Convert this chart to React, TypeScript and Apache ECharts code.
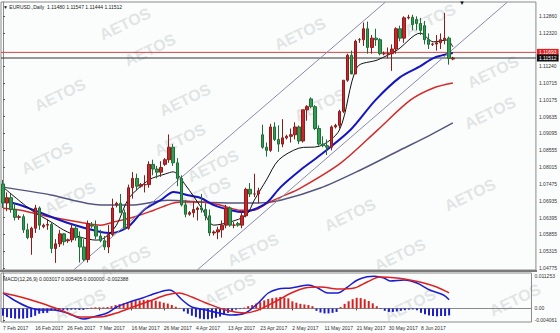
import React, { useEffect, useRef } from 'react';
import * as echarts from 'echarts';

// ---- data ----
const dateLabels = ['7 Feb 2017','16 Feb 2017','26 Feb 2017','7 Mar 2017','16 Mar 2017','26 Mar 2017','4 Apr 2017','13 Apr 2017','23 Apr 2017','2 May 2017','11 May 2017','21 May 2017','30 May 2017','8 Jun 2017'];

const open = [1.0747,1.0686,1.0703,1.0665,1.0640,1.0642,1.0600,1.0575,1.0605,1.0670,1.0610,1.0615,1.0617,1.0540,1.0555,1.0587,1.0565,1.0568,1.0605,1.0575,1.0545,1.0505,1.0615,1.0612,1.0580,1.0565,1.0545,1.0585,1.0680,1.0685,1.0655,1.0605,1.0735,1.0765,1.0740,1.0745,1.0745,1.0810,1.0795,1.0785,1.0810,1.0825,1.0865,1.0815,1.0765,1.0680,1.0650,1.0655,1.0665,1.0670,1.0665,1.0645,1.0590,1.0593,1.0600,1.0615,1.0670,1.0615,1.0620,1.0615,1.0645,1.0730,1.0715,1.0715,1.0905,1.0865,1.0855,1.0930,1.0890,1.0875,1.0895,1.0900,1.0905,1.0930,1.0885,1.0985,1.1020,1.0995,1.0925,1.0875,1.0870,1.0865,1.0930,1.0935,1.0980,1.1080,1.1160,1.1100,1.1210,1.1210,1.1245,1.1185,1.1215,1.1210,1.1165,1.1165,1.1165,1.1180,1.1245,1.1215,1.1280,1.1282,1.1275,1.1262,1.1255,1.1210,1.1195,1.1196,1.1200,1.1210,1.1215,1.1148];
const high = [1.0760,1.0720,1.0715,1.0685,1.0648,1.0650,1.0620,1.0610,1.0680,1.0675,1.0620,1.0635,1.0625,1.0570,1.0600,1.0590,1.0572,1.0620,1.0615,1.0595,1.0570,1.0630,1.0625,1.0630,1.0600,1.0580,1.0615,1.0700,1.0690,1.0715,1.0665,1.0745,1.0785,1.0780,1.0750,1.0775,1.0820,1.0825,1.0805,1.0820,1.0830,1.0906,1.0875,1.0830,1.0775,1.0695,1.0660,1.0690,1.0675,1.0715,1.0685,1.0665,1.0598,1.0610,1.0630,1.0680,1.0675,1.0625,1.0625,1.0660,1.0735,1.0750,1.0780,1.0735,1.0937,1.0880,1.0940,1.0945,1.0935,1.0955,1.0905,1.0925,1.0945,1.0935,1.0985,1.1000,1.1025,1.1000,1.0935,1.0900,1.0890,1.0935,1.0940,1.0985,1.1080,1.1165,1.1175,1.1210,1.1215,1.1265,1.1268,1.1225,1.1245,1.1215,1.1172,1.1185,1.1195,1.1250,1.1255,1.1285,1.1290,1.1290,1.1285,1.1280,1.1270,1.1230,1.1200,1.1225,1.1230,1.1296,1.1220,1.1155];
const low = [1.0670,1.0660,1.0655,1.0630,1.0632,1.0590,1.0570,1.0520,1.0590,1.0600,1.0605,1.0600,1.0525,1.0494,1.0545,1.0550,1.0558,1.0560,1.0565,1.0495,1.0500,1.0495,1.0605,1.0570,1.0560,1.0535,1.0525,1.0580,1.0672,1.0655,1.0600,1.0600,1.0700,1.0725,1.0735,1.0720,1.0735,1.0775,1.0765,1.0770,1.0805,1.0815,1.0805,1.0740,1.0675,1.0640,1.0645,1.0640,1.0630,1.0655,1.0630,1.0580,1.0582,1.0570,1.0575,1.0605,1.0610,1.0605,1.0610,1.0605,1.0640,1.0705,1.0705,1.0685,1.0860,1.0835,1.0850,1.0885,1.0850,1.0865,1.0890,1.0880,1.0890,1.0875,1.0880,1.0950,1.0990,1.0920,1.0870,1.0865,1.0840,1.0855,1.0925,1.0925,1.0975,1.1075,1.1110,1.1100,1.1200,1.1190,1.1165,1.1165,1.1190,1.1160,1.1160,1.1150,1.1110,1.1165,1.1205,1.1200,1.1275,1.1240,1.1240,1.1225,1.1195,1.1180,1.1190,1.1175,1.1180,1.1195,1.1130,1.1144];
const close = [1.0686,1.0703,1.0665,1.0640,1.0642,1.0600,1.0575,1.0605,1.0670,1.0615,1.0615,1.0617,1.0540,1.0555,1.0587,1.0562,1.0568,1.0605,1.0575,1.0545,1.0505,1.0620,1.0612,1.0580,1.0565,1.0545,1.0585,1.0670,1.0685,1.0655,1.0605,1.0735,1.0765,1.0740,1.0745,1.0745,1.0810,1.0795,1.0785,1.0800,1.0825,1.0865,1.0815,1.0765,1.0680,1.0650,1.0655,1.0665,1.0670,1.0665,1.0645,1.0590,1.0593,1.0600,1.0615,1.0670,1.0615,1.0615,1.0615,1.0645,1.0730,1.0715,1.0715,1.0725,1.0865,1.0855,1.0930,1.0890,1.0875,1.0895,1.0900,1.0905,1.0930,1.0885,1.0985,1.0995,1.0995,1.0925,1.0875,1.0870,1.0865,1.0930,1.0935,1.0980,1.1080,1.1160,1.1100,1.1205,1.1210,1.1245,1.1185,1.1215,1.1210,1.1165,1.1165,1.1165,1.1180,1.1245,1.1215,1.1280,1.1282,1.1258,1.1262,1.1240,1.1210,1.1195,1.1196,1.1200,1.1210,1.1215,1.1150,1.1151];

// moving averages: [bar index, price]
const maFast = [[0,1.0737],[7,1.0663],[12,1.0624],[15,1.0599],[19,1.0577],[23,1.0567],[25,1.0574],[28,1.0615],[31,1.0700],[36,1.0760],[40,1.0779],[42,1.0786],[45,1.0744],[49,1.0670],[52,1.0615],[56,1.0625],[60,1.0647],[62,1.0695],[65,1.0760],[68,1.0824],[73,1.0862],[78,1.0868],[83,1.0920],[87.4,1.1122],[92.4,1.1145],[97.3,1.1177],[103,1.1231],[106.2,1.1203],[109.6,1.1209],[111,1.1187]];
const maMid = [[0,1.0695],[4.4,1.0679],[7.6,1.0663],[16,1.0622],[24.1,1.0593],[26.6,1.0590],[30.8,1.0609],[34.7,1.0663],[38.9,1.0695],[42.1,1.0721],[45.6,1.0711],[48.8,1.0702],[52,1.0679],[56.2,1.0663],[59.4,1.0657],[62.8,1.0670],[65.3,1.0689],[68.5,1.0737],[73.4,1.0792],[78.3,1.0840],[85.7,1.0920],[91.9,1.1016],[98,1.1090],[103,1.1125],[106.2,1.1151],[111,1.1167]];
const maSlow = [[0,1.0669],[4.4,1.0663],[11.8,1.0641],[20,1.0622],[24.1,1.0615],[27.3,1.0625],[32.3,1.0641],[37.2,1.0663],[42.1,1.0686],[45.6,1.0689],[48.8,1.0689],[53.7,1.0679],[58.6,1.0663],[61.8,1.0663],[65.3,1.0686],[68.5,1.0705],[73.4,1.0734],[83.3,1.0814],[92.4,1.0920],[100.5,1.1016],[106.2,1.1055],[111,1.1071]];
const maLong = [[0,1.0737],[11.8,1.0712],[24.1,1.0680],[32.3,1.0680],[40.6,1.0695],[48.8,1.0689],[56.9,1.0686],[62.8,1.0686],[68.5,1.0695],[78.3,1.0734],[88.2,1.0792],[98,1.0856],[105.4,1.0904],[111,1.0943]];

// channel lines: [bar index, price] end points
const channelUpper = [[17.5,1.0472],[94.3,1.1330]];
const channelLower = [[48,1.0472],[124.4,1.1330]];

const bidLine = 1.11693;
const lastLine = 1.11512;
const priceTicks = [1.12860,1.12320,1.11240,1.10715,1.10175,1.09635,1.09095,1.08555,1.08015,1.07475,1.06935,1.06395,1.05855,1.05315,1.04775];

const macdHist = [-0.0025,-0.003,-0.0033,-0.0035,-0.0035,-0.0035,-0.0033,-0.003,-0.0025,-0.0018,-0.0016,-0.0015,-0.0006,-0.0005,-0.0005,-0.0005,-0.0004,-0.0004,-0.0004,-0.0005,-0.0005,-0.0002,0.0003,0.0004,0.0004,0.0004,0.0005,0.0008,0.0012,0.0015,0.0018,0.0022,0.0025,0.0027,0.0028,0.003,0.003,0.0028,0.0027,0.0024,0.002,0.0017,0.0012,0.0006,0.0002,-0.001,-0.0018,-0.0025,-0.003,-0.0035,-0.0037,-0.0037,-0.0035,-0.0032,-0.0028,-0.0022,-0.0015,-0.0008,-0.0004,-0.0002,0.0003,0.0008,0.0012,0.0017,0.0022,0.0028,0.0033,0.0036,0.0038,0.004,0.0038,0.0035,0.0025,0.002,0.0016,0.0014,0.0012,0.0008,-0.0008,-0.0014,-0.0017,-0.0017,-0.0015,-0.0012,0.0005,0.0016,0.0025,0.0032,0.0037,0.0036,0.0032,0.0026,0.0018,0.0008,-0.0002,-0.0008,-0.0012,-0.0012,-0.001,-0.0008,-0.0006,-0.0004,-0.0003,-0.0006,-0.0015,-0.002,-0.0024,-0.0026,-0.0027,-0.0026,-0.0026,-0.002388];
const macdMain = [[0,0.00537],[2.7,0.00294],[6.2,0.00052],[9.4,-0.00052],[12.6,-0.00052],[16,-0.00156],[20,-0.00364],[22.4,-0.00294],[25.9,-0.00156],[28.3,0.00052],[31.5,0.00225],[34.7,0.00364],[38.2,0.00537],[41.4,0.00641],[42.6,0.00571],[44.6,0.00294],[47,0.00052],[50.5,-0.00052],[53.7,-0.00156],[56.9,-0.00225],[60.3,-0.00156],[63.5,0.0019],[66,0.00537],[68.5,0.00675],[71.7,0.0071],[75.9,0.00814],[78.3,0.0071],[80.8,0.00537],[83.3,0.00537],[85.7,0.00744],[88.2,0.00987],[90.6,0.0110],[92.4,0.0112],[94.8,0.01056],[96.3,0.00952],[99.8,0.00987],[103,0.00883],[106.2,0.0064],[109.6,0.00467],[111,0.003017]];
const macdSignal = [[0,0.00537],[4.4,0.00398],[9.4,0.0019],[14.3,-0.00052],[19.2,-0.00294],[24.1,-0.00294],[28.3,-0.00156],[32.3,0.00052],[37.2,0.00294],[40.6,0.00467],[43.8,0.00537],[47,0.00398],[50.5,0.0019],[55.4,-0.00052],[60.3,-0.00156],[63.5,-0.00052],[68.5,0.00294],[71.7,0.00537],[75.1,0.0071],[79.1,0.00744],[83.3,0.00675],[87.4,0.0071],[90.6,0.00918],[93.8,0.0109],[98,0.01056],[101.2,0.00987],[104.7,0.00883],[107.9,0.00744],[111,0.005405]];
const macdTicks = [0.011253, 0, -0.004061];

const SLOTS = 132;
const FONT = 'Liberation Sans';

const watermarks = [[125,24],[150,50],[300,34],[430,20],[60,95],[185,100],[320,105],[493,72],[490,113],[47,158],[180,140],[213,166],[70,198],[205,193],[350,215],[470,195],[253,250],[125,262],[400,255],[230,290],[410,305],[80,305],[515,300]];

export default function App() {
  const ref = useRef<HTMLDivElement>(null);
  useEffect(() => {
    if (!ref.current) return;
    const chart = echarts.init(ref.current, null, { renderer: 'svg' });
    const slots = Array.from({ length: SLOTS }, (_, i) => String(i));
    const candles = open.map((o, i) => [o, close[i], low[i], high[i]]);
    const showDate = (i: number) => i % 8 === 0 && i / 8 < dateLabels.length;
    const line = (data: number[][], color: string, width: number, xi: number, yi: number, smooth = 0.3) => ({
      type: 'line', xAxisIndex: xi, yAxisIndex: yi, data, showSymbol: false, smooth,
      lineStyle: { color, width }, silent: true, z: 3,
    });
    const hLine = (v: number, color: string, bg: string) => ({
      type: 'line', xAxisIndex: 1, yAxisIndex: 0, data: [[-0.5, v], [SLOTS - 0.5, v]], showSymbol: false, silent: true, z: 2,
      lineStyle: { color, width: 1 },
      endLabel: { show: true, formatter: v.toFixed(5), color: '#fff', backgroundColor: bg, padding: [1, 2], fontSize: 5, distance: 1 },
    });
    const wm = watermarks.map(([x, y]) => ({
      type: 'text', x, y, rotation: 0.45, z: -10, silent: true,
      style: { text: 'AETOS', fill: 'rgba(200,204,204,0.5)', font: `bold 16px "${FONT}"`, align: 'center', verticalAlign: 'middle' },
    }));
    chart.setOption({
      animation: false,
      backgroundColor: '#fbfdfc',
      textStyle: { fontFamily: FONT },
      grid: [
        { left: 1, right: 24, top: 2, height: 268, show: true, borderColor: '#8a8a8a', borderWidth: 1, backgroundColor: 'transparent' },
        { left: 1, right: 24, top: 273, height: 49, show: true, borderColor: '#8a8a8a', borderWidth: 1, backgroundColor: 'transparent' },
      ],
      xAxis: [
        { type: 'category', gridIndex: 0, data: slots, show: false },
        { type: 'value', gridIndex: 0, min: -0.5, max: SLOTS - 0.5, show: false },
        {
          type: 'category', gridIndex: 1, data: slots,
          axisLine: { show: true, lineStyle: { color: '#8a8a8a' } },
          axisTick: { show: true, interval: (i: number) => showDate(i), alignWithLabel: true, length: 2, lineStyle: { color: '#555' } },
          axisLabel: { interval: (i: number) => showDate(i), showMinLabel: true, formatter: (_v: string, i: number) => dateLabels[i / 8], align: 'left', fontSize: 5, color: '#333', margin: 3 },
        },
        { type: 'value', gridIndex: 1, min: -0.5, max: SLOTS - 0.5, show: false },
      ],
      yAxis: [
        {
          type: 'value', gridIndex: 0, position: 'right', min: 1.04711, max: 1.13309,
          axisLine: { show: true, lineStyle: { color: '#8a8a8a' } },
          axisTick: { show: true, customValues: priceTicks, length: 2, lineStyle: { color: '#555' } },
          axisLabel: { customValues: priceTicks, formatter: (v: number) => v.toFixed(5), fontSize: 5, color: '#333', margin: 3 },
          splitLine: { show: false },
        },
        {
          type: 'value', gridIndex: 1, position: 'right', min: -0.004675, max: 0.012292,
          axisLine: { show: true, lineStyle: { color: '#8a8a8a' } },
          axisTick: { show: true, customValues: macdTicks, length: 2, lineStyle: { color: '#555' } },
          axisLabel: { customValues: macdTicks, formatter: (v: number) => (v === 0 ? '0.00' : v.toFixed(6)), fontSize: 5, color: '#333', margin: 3 },
          splitLine: { show: false },
        },
      ],
      series: [
        hLine(bidLine, '#d84040', '#e02020'),
        hLine(lastLine, '#333333', '#111111'),
        {
          type: 'candlestick', xAxisIndex: 0, yAxisIndex: 0, data: candles, barWidth: 3, z: 4,
          itemStyle: { color: '#c8262c', color0: '#2f9e50', borderColor: '#8e1b1b', borderColor0: '#1f6e36', borderWidth: 1 },
        },
        line(maLong, '#55557f', 1.5, 1, 0),
        line(maSlow, '#d42a2a', 1.5, 1, 0),
        line(maMid, '#1414c4', 2, 1, 0),
        line(maFast, '#111111', 1, 1, 0),
        line(channelUpper, '#8a8aa8', 1, 1, 0, 0),
        line(channelLower, '#8a8aa8', 1, 1, 0, 0),
        {
          type: 'bar', xAxisIndex: 2, yAxisIndex: 1, barWidth: 2, silent: true,
          data: macdHist.map((v) => ({ value: v, itemStyle: { color: v >= 0 ? '#d42020' : '#1c1cc8' } })),
        },
        line(macdMain, '#1c1cd0', 1.5, 3, 1),
        line(macdSignal, '#e02020', 1.5, 3, 1),
      ],
      graphic: [
        ...wm,
        { type: 'rect', shape: { x: 0, y: 270, width: 537, height: 2 }, style: { fill: '#7a7a7a' }, silent: true, z: 10 },
        { type: 'text', x: 3, y: 4, silent: true, z: 10, style: { text: '▼ EURUSD.,Daily  1.11480 1.11547 1.11444 1.11512', fill: '#222', font: `5px "${FONT}"` } },
        { type: 'text', x: 3, y: 276, silent: true, z: 10, style: { text: 'MACD(12,26,9) 0.003017 0.005405 0.000000 -0.002388', fill: '#222', font: `5px "${FONT}"` } },
        { type: 'text', x: 459, y: 0, silent: true, z: 10, style: { text: '▼', fill: '#111', font: `6px "${FONT}"` } },
      ],
    });
    return () => chart.dispose();
  }, []);
  return <div ref={ref} style={{ position: 'fixed', left: 0, top: 0, width: 560, height: 333 }} />;
}
